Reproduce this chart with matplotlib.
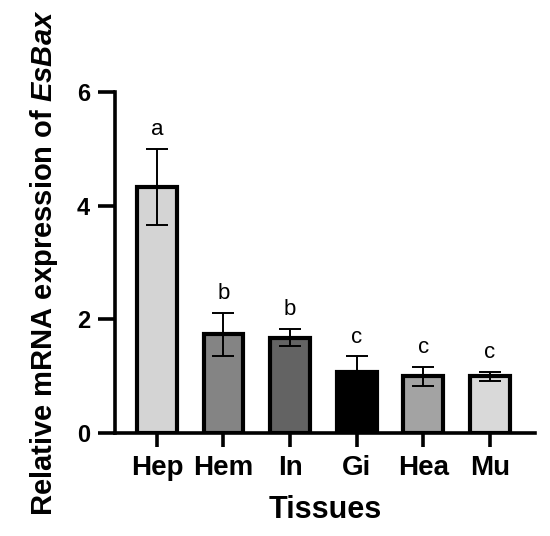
import matplotlib
matplotlib.use("Agg")
import matplotlib.pyplot as plt

tissues = ["Hep", "Hem", "In", "Gi", "Hea", "Mu"]
means = [4.33, 1.74, 1.68, 1.08, 1.0, 1.0]
errors = [0.67, 0.38, 0.15, 0.27, 0.17, 0.08]
letters = ["a", "b", "b", "c", "c", "c"]
yticks = [0, 2, 4, 6]
colors = ["#d4d4d4", "#848484", "#636363", "#000000", "#a3a3a3", "#d9d9d9"]

plt.rcParams['font.family'] = ['Liberation Sans', 'DejaVu Sans']
plt.rcParams['mathtext.fontset'] = 'custom'
plt.rcParams['mathtext.it'] = 'Liberation Sans:italic:bold'

fig = plt.figure(figsize=(5.5, 5.36), dpi=100)
ax = fig.add_axes([0.209, 0.192, 0.764, 0.636])

x = list(range(len(tissues)))
ax.bar(x, means, width=0.6, color=colors, edgecolor="black", linewidth=3, zorder=2)
ax.errorbar(x, means, yerr=errors, fmt="none", ecolor="black", elinewidth=1.4,
            capsize=8, capthick=1.4, zorder=3)

for xi, m, e, l in zip(x, means, errors, letters):
    ax.text(xi, m + e + 0.24, l, ha="center", va="baseline", fontsize=16)

ax.set_xlim(-0.63, 5.68)
ax.set_ylim(0, 6)

for side in ["top", "right"]:
    ax.spines[side].set_visible(False)
for side in ["left", "bottom"]:
    ax.spines[side].set_linewidth(2.6)
ax.tick_params(axis="x", width=2.6, length=10, direction="out", pad=6)
ax.tick_params(axis="y", width=2.6, length=12, direction="out", pad=6)

ax.set_xticks(x, labels=tissues, fontsize=20, fontweight="bold")
ax.set_yticks(yticks, labels=[str(t) for t in yticks], fontsize=17, fontweight="bold")

ax.set_xlabel("Tissues", fontsize=22, fontweight="bold", labelpad=10)
ax.set_ylabel(r"Relative mRNA expression of $\mathit{EsBax}$", fontsize=21,
              fontweight="bold", labelpad=12)

fig.savefig("out.png", dpi=100)
